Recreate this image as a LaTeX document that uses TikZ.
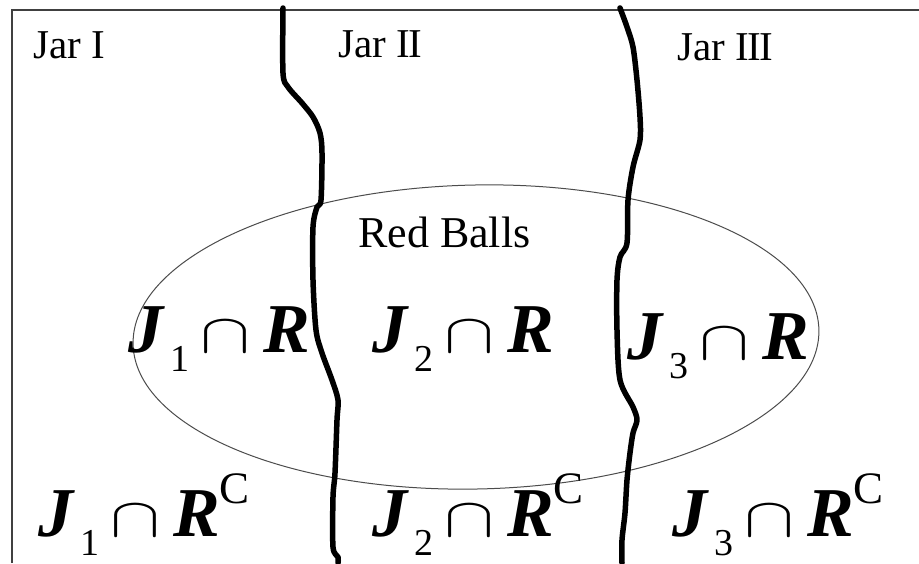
\documentclass[tikz,border=0pt]{standalone}
\usepackage{fontspec}
\usepackage{graphicx}
\setmainfont{Liberation Serif}
\newcommand\jrexpr[2]{%
\rlap{\bfseries\itshape J}\hspace{42pt}%
\rlap{\raisebox{-19pt}{\fontsize{38}{40}\selectfont #1}}\hspace{30pt}%
\rlap{\resizebox{50pt}{31pt}{$\cap$}}\hspace{63pt}%
{\bfseries\itshape R}\raisebox{33pt}{\fontsize{45}{48}\selectfont #2}}
\tikzset{
  frameline/.style={draw=black!75, line width=1.6pt},
  divider/.style={draw=black, line width=5.5pt, line cap=round, line join=round},
  setline/.style={draw=black!70, line width=1pt},
  jarlabel/.style={anchor=base west, inner sep=0pt, font=\fontsize{41}{46}\selectfont},
  expr/.style={anchor=base west, inner sep=0pt, font=\fontsize{70}{74}\selectfont},
}
\begin{document}
\begin{tikzpicture}[x=1pt,y=-1pt]
\useasboundingbox[fill=white] (0,0) rectangle (919,563);
% frame (left and top edges visible)
\coordinate (fbl) at (12,563);
\coordinate (ftl) at (12,10);
\coordinate (ftr) at (919,10);
\draw[frameline] (fbl) -- (ftl) -- (ftr);
% ellipse of red balls
\coordinate (ec) at (476,337);
\draw[setline] (ec) ellipse [x radius=343, y radius=152, rotate=1.2];
% dividers
\draw[divider] plot[smooth, tension=0.5] coordinates {(283,8) (283,73) (288,87) (302,103) (313,117) (320,133) (322,153) (321,200) (317,207) (313,227) (313,280) (316,330) (322,353) (332,380) (338,400) (337,420) (335,473) (333,497) (333,547) (338,557) (338,563)};
\draw[divider] plot[smooth, tension=0.5] coordinates {(620,8) (627,27) (633,47) (637,80) (640,117) (640,140) (633,167) (628,200) (627,243) (620,257) (617,280) (617,330) (620,380) (633,407) (637,420) (633,433) (630,453) (627,480) (625,513) (622,540) (622,563)};
% labels
\node[jarlabel] (j1) at (33,58) {Jar I};
\node[jarlabel] (j2) at (338,57) {Jar I\kern-1.5pt I};
\node[jarlabel] (j3) at (677,60) {Jar I\kern-1.5pt I\kern-1.5pt I};
\node[jarlabel, font=\fontsize{44}{48}\selectfont] (rb) at (358,247) {Red Balls};
% expressions
\node[expr] (a1) at (128,352) {\jrexpr{1}{}};
\node[expr] (a2) at (372,352) {\jrexpr{2}{}};
\node[expr] (a3) at (627,359) {\jrexpr{3}{}};
\node[expr] (b1) at (38,536) {\jrexpr{1}{C}};
\node[expr] (b2) at (372,536) {\jrexpr{2}{C}};
\node[expr] (b3) at (672,536) {\jrexpr{3}{C}};
\end{tikzpicture}
\end{document}
